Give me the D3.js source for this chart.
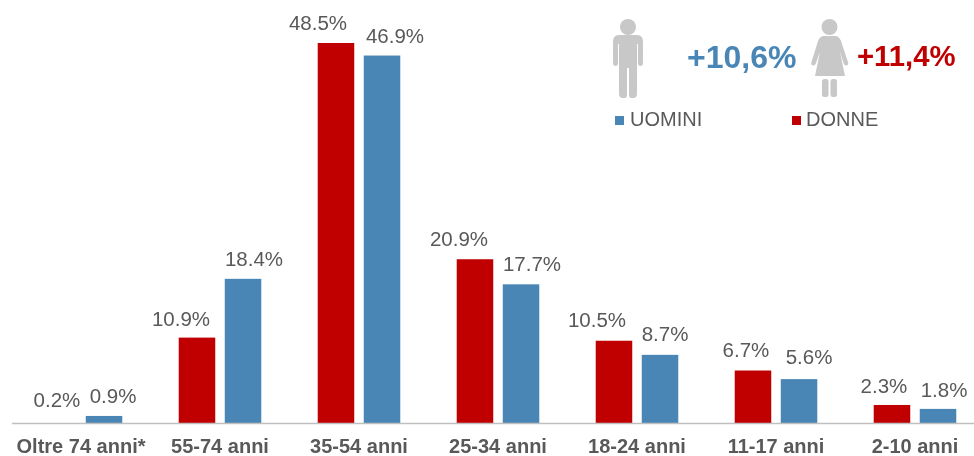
<!DOCTYPE html>
<html>
<head>
<meta charset="utf-8">
<script src="https://cdn.jsdelivr.net/npm/d3@7/dist/d3.min.js"></script>
<style>
  html, body { margin: 0; padding: 0; background: #fff; }
  svg { filter: blur(0.4px); }
  text { font-family: "Liberation Sans", Arial, sans-serif; }
</style>
</head>
<body>
<div id="chart"></div>
<script>
// chart data
const categories = ["Oltre 74 anni*", "55-74 anni", "35-54 anni", "25-34 anni", "18-24 anni", "11-17 anni", "2-10 anni"];
const donne = [0.2, 10.9, 48.5, 20.9, 10.5, 6.7, 2.3];
const uomini = [0.9, 18.4, 46.9, 17.7, 8.7, 5.6, 1.8];
const seriesNames = ["DONNE", "UOMINI"];
const legendLabels = ["UOMINI", "DONNE"];
const totals = ["+10,6%", "+11,4%"];

const red = "#c00000", blue = "#4a86b5", grey = "#595959", iconGrey = "#c8c8c8";

const width = 974, height = 456, baseline = 423;

// the value labels were moved by hand in the original, so each has its own offset
const labelShift = {
  DONNE: [-1, -16, -18, -16, -17, -7, -8],
  UOMINI: [9, 11, 13, 11, 5, 10, 6]
};
const labelLift = {
  DONNE: [14, 12, 13, 13, 14, 13.5, 12],
  UOMINI: [13, 13, 12.5, 13, 14, 15, 12]
};

const svg = d3.select("#chart")
  .append("svg")
    .attr("width", width)
    .attr("height", height)
    .style("display", "block");

// X axis
const x = d3.scaleBand()
  .domain(categories)
  .range([11.5, 984.5])
  .paddingInner(0.406)
  .paddingOuter(0.203);

const xSub = d3.scaleBand()
  .domain(seriesNames)
  .range([0, x.bandwidth()])
  .paddingInner(0.2065);

// Y axis (not drawn in the picture, only used for bar heights)
const y = d3.scaleLinear()
  .domain([0, 48.5])
  .range([baseline, 43]);

const color = d3.scaleOrdinal().domain(seriesNames).range([red, blue]);

const rows = categories.map((c, i) => ({ cat: c, i: i, DONNE: donne[i], UOMINI: uomini[i] }));

const groups = svg.selectAll("g.group")
  .data(rows)
  .enter()
  .append("g")
    .attr("class", "group")
    .attr("transform", d => "translate(" + x(d.cat) + ",0)");

const cells = groups.selectAll("g.cell")
  .data(d => seriesNames.map(s => ({ s: s, v: d[s], i: d.i })))
  .enter()
  .append("g")
    .attr("class", "cell");

// the 0.2% bar is not visible in the original, it stays under the axis line
cells.filter(d => d.v >= 0.5)
  .append("rect")
  .attr("x", d => xSub(d.s))
  .attr("y", d => y(d.v))
  .attr("width", xSub.bandwidth())
  .attr("height", d => baseline - y(d.v))
  .attr("fill", d => color(d.s));

cells.append("text")
  .attr("x", d => xSub(d.s) + xSub.bandwidth() / 2 + labelShift[d.s][d.i])
  .attr("y", d => y(d.v) - labelLift[d.s][d.i])
  .attr("text-anchor", "middle")
  .attr("font-size", 20.5)
  .attr("fill", grey)
  .text(d => d.v.toFixed(1) + "%");

// bottom axis
const axis = svg.append("g")
  .attr("transform", "translate(0," + baseline + ")")
  .call(d3.axisBottom(x).tickSize(0).tickPadding(16));
axis.select(".domain").attr("stroke", "#bfbfbf").attr("stroke-width", 1.5);
axis.selectAll("text")
  .attr("font-family", '"Liberation Sans", Arial, sans-serif')
  .attr("font-size", 20)
  .attr("font-weight", "bold")
  .attr("fill", grey);

// man and woman icons
const man = svg.append("g").attr("fill", iconGrey);
man.append("circle").attr("cx", 628).attr("cy", 27).attr("r", 8);
man.append("path").attr("d", "M619 35 H637 Q643 35 643 42 V63 Q643 66 640.5 66 Q638 66 638 63 V44 H637 V94 Q637 98 633 98 H631 Q629 98 629 94 V68 H627 V94 Q627 98 625 98 H623 Q619 98 619 94 V44 H618 V63 Q618 66 615.5 66 Q613 66 613 63 V42 Q613 35 619 35 Z");

const woman = svg.append("g").attr("fill", iconGrey);
woman.append("circle").attr("cx", 829.5).attr("cy", 27).attr("r", 8);
woman.append("path").attr("d", "M824 36 H835 Q839 36 841 41 L848 62 Q849 65 846.5 65.5 Q844.5 66 843.5 63 L840 52 L845 76 H815 L820 52 L816 63 Q815 66 813 65.5 Q810.5 65 811.5 62 L818 41 Q820 36 824 36 Z");
woman.append("rect").attr("x", 822).attr("y", 79).attr("width", 6.5).attr("height", 18).attr("rx", 2.5);
woman.append("rect").attr("x", 830.5).attr("y", 79).attr("width", 6.5).attr("height", 18).attr("rx", 2.5);

// totals
svg.append("text").attr("x", 687).attr("y", 68)
  .attr("font-size", 32).attr("font-weight", "bold").attr("fill", blue).text(totals[0]);
svg.append("text").attr("x", 857).attr("y", 66)
  .attr("font-size", 29.3).attr("font-weight", "bold").attr("fill", red).text(totals[1]);

// legend
svg.append("rect").attr("x", 615).attr("y", 116).attr("width", 9).attr("height", 9).attr("fill", blue);
svg.append("text").attr("x", 630).attr("y", 126)
  .attr("font-size", 20).attr("fill", grey).text(legendLabels[0]);
svg.append("rect").attr("x", 792).attr("y", 116).attr("width", 9).attr("height", 9).attr("fill", red);
svg.append("text").attr("x", 806).attr("y", 126)
  .attr("font-size", 20).attr("fill", grey).text(legendLabels[1]);
</script>
</body>
</html>
